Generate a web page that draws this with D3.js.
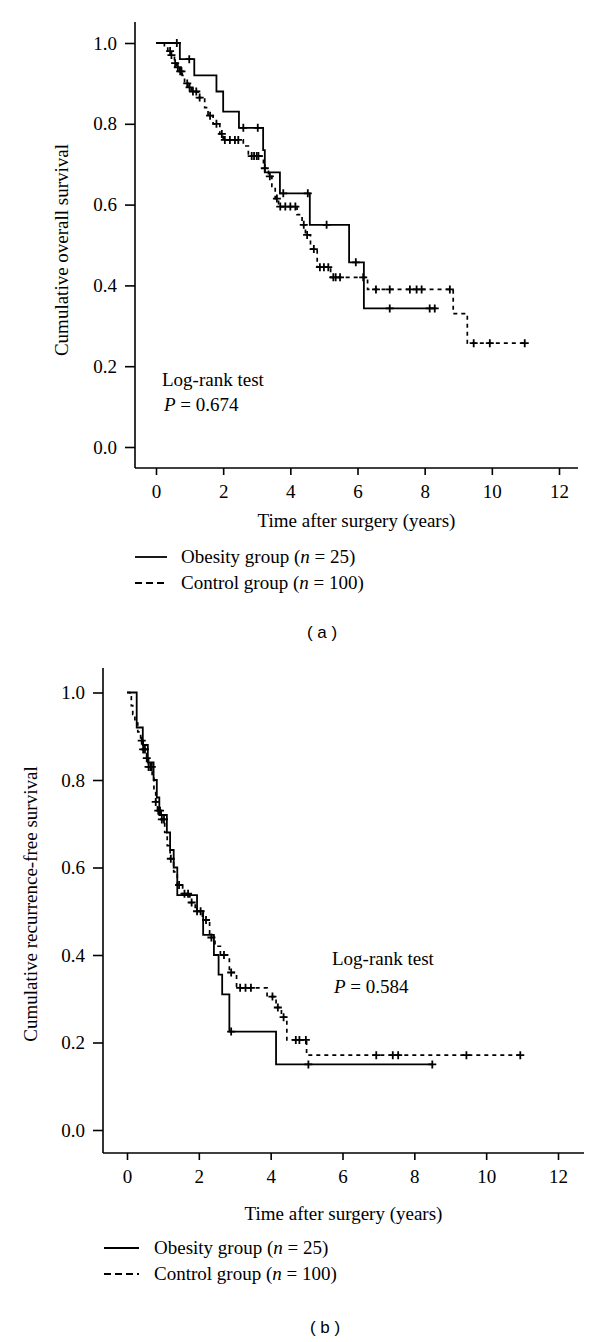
<!DOCTYPE html>
<html><head><meta charset="utf-8">
<script src="https://cdn.jsdelivr.net/npm/d3@7"></script>
<style>
html,body{margin:0;padding:0;background:#fff;}
svg{display:block;}
text{font-family:"Liberation Serif","Times New Roman",serif;fill:#000;}
</style></head>
<body>
<script>
// ---------- data ----------
const xTicks = [0, 2, 4, 6, 8, 10, 12];
const yTicks = [0.0, 0.2, 0.4, 0.6, 0.8, 1.0];

// Panel (a): overall survival
const aObesityT = [0, 0.71, 1.14, 1.8, 2.0, 2.47, 3.19, 3.24, 3.69, 4.58, 5.75, 6.19, 8.35];
const aObesityS = [1.0, 0.96, 0.92, 0.88, 0.83, 0.79, 0.735, 0.68, 0.628, 0.55, 0.457, 0.343, 0.343];
const aObesityCensor = [0.62, 0.99, 2.6, 3.03, 3.79, 4.52, 5.08, 5.95, 6.96, 8.15, 8.3];

const aControlT = [0, 0.25, 0.35, 0.45, 0.55, 0.62, 0.70, 0.78, 0.85, 0.95, 1.05, 1.25, 1.45, 1.55, 1.7, 1.9, 2.0, 2.6, 2.75, 3.2, 3.35, 3.45, 3.55, 3.65, 4.2, 4.35, 4.45, 4.6, 4.8, 5.2, 6.3, 8.85, 9.27, 10.98];
const aControlS = [1.0, 0.99, 0.98, 0.97, 0.95, 0.94, 0.93, 0.92, 0.90, 0.89, 0.88, 0.865, 0.84, 0.82, 0.80, 0.775, 0.76, 0.745, 0.72, 0.69, 0.67, 0.645, 0.615, 0.595, 0.575, 0.55, 0.525, 0.49, 0.445, 0.42, 0.39, 0.33, 0.257, 0.257];
const aControlCensor = [0.42, 0.46, 0.57, 0.65, 0.72, 0.76, 0.93, 1.0, 1.1, 1.2, 1.3, 1.61, 1.8, 1.96, 2.05, 2.2, 2.35, 2.45, 2.85, 2.92, 3.0, 3.05, 3.24, 3.39, 3.6, 3.7, 3.85, 4.0, 4.15, 4.4, 4.5, 4.7, 4.88, 5.0, 5.13, 5.28, 5.35, 5.48, 6.17, 6.55, 6.96, 7.56, 7.76, 7.91, 8.75, 9.46, 9.94, 10.98];

// Panel (b): recurrence-free survival
const bObesityT = [0, 0.27, 0.44, 0.58, 0.74, 0.83, 0.9, 1.11, 1.2, 1.3, 1.4, 1.95, 2.12, 2.42, 2.55, 2.65, 2.85, 4.15, 8.5];
const bObesityS = [1.0, 0.92, 0.88, 0.84, 0.80, 0.76, 0.72, 0.68, 0.64, 0.60, 0.537, 0.50, 0.446, 0.40, 0.355, 0.31, 0.225, 0.15, 0.15];
const bObesityCensor = [2.9, 5.05, 8.5];

const bControlT = [0, 0.08, 0.12, 0.16, 0.22, 0.3, 0.38, 0.45, 0.55, 0.6, 0.7, 0.75, 0.8, 0.85, 0.95, 1.05, 1.12, 1.2, 1.3, 1.4, 1.55, 1.75, 1.9, 2.1, 2.3, 2.45, 2.6, 2.85, 3.05, 3.9, 4.15, 4.3, 4.45, 5.0, 10.95];
const bControlS = [1.0, 0.99, 0.97, 0.95, 0.93, 0.91, 0.89, 0.87, 0.85, 0.83, 0.81, 0.78, 0.75, 0.73, 0.71, 0.68, 0.65, 0.62, 0.59, 0.56, 0.54, 0.52, 0.50, 0.48, 0.44, 0.42, 0.40, 0.36, 0.325, 0.305, 0.28, 0.258, 0.206, 0.171, 0.171];
const bControlCensor = [0.41, 0.45, 0.5, 0.55, 0.6, 0.65, 0.69, 0.8, 0.87, 0.92, 0.97, 1.03, 1.22, 1.45, 1.6, 1.7, 1.8, 1.95, 2.05, 2.2, 2.35, 2.7, 2.9, 3.15, 3.3, 3.45, 4.05, 4.2, 4.36, 4.7, 4.8, 4.98, 6.94, 7.4, 7.55, 9.45, 10.95];

const legendLabels = ["Obesity group", "Control group"];
const legendN = ["25", "100"];
const pValues = ["0.674", "0.584"];

// ---------- drawing ----------
const W = 600, H = 1342;
const svg = d3.select("body").append("svg").attr("width", W).attr("height", H);

const panels = [
  { xr: [156, 559], yr: [447, 43], axX: 135, axTop: 22, axY: 468, axRight: 578,
    yTitle: "Cumulative overall survival", yTitleX: 68, yTitleY: 250,
    series: [[aObesityT, aObesityS, aObesityCensor, false], [aControlT, aControlS, aControlCensor, true]],
    lr: { x: 162, y: 386, dy: 25 },
    xTitleY: 527, legY: 557, legX0: 135, legX1: 167, legTX: 181,
    label: "( a )", labelX: 322, labelY: 638 },
  { xr: [127, 558], yr: [1130, 692.5], axX: 103, axTop: 668, axY: 1153, axRight: 584,
    yTitle: "Cumulative recurrence-free survival", yTitleX: 37, yTitleY: 904,
    series: [[bObesityT, bObesityS, bObesityCensor, false], [bControlT, bControlS, bControlCensor, true]],
    lr: { x: 332, y: 965, dy: 28 },
    xTitleY: 1220, legY: 1248, legX0: 104, legX1: 139, legTX: 154,
    label: "( b )", labelX: 325, labelY: 1333 }
];

panels.forEach((p, pi) => {
  const x = d3.scaleLinear().domain([0, 12]).range(p.xr);
  const y = d3.scaleLinear().domain([0, 1]).range(p.yr);
  const g = svg.append("g");

  // axis lines
  g.append("line").attr("x1", p.axX).attr("x2", p.axX).attr("y1", p.axTop).attr("y2", p.axY)
    .attr("stroke", "#000").attr("stroke-width", 1.6);
  g.append("line").attr("x1", p.axX).attr("x2", p.axRight).attr("y1", p.axY).attr("y2", p.axY)
    .attr("stroke", "#000").attr("stroke-width", 1.6);

  // y axis
  const ya = g.append("g").attr("transform", `translate(${p.axX},0)`)
    .call(d3.axisLeft(y).tickValues(yTicks).tickFormat(d3.format(".1f")).tickSize(10).tickPadding(8));
  ya.select(".domain").remove();
  ya.selectAll(".tick line").attr("stroke", "#000").attr("stroke-width", 1.6);
  ya.selectAll(".tick text").style("font-family", "Liberation Serif").style("font-size", "19px").attr("fill", "#000");

  // x axis
  const xa = g.append("g").attr("transform", `translate(0,${p.axY})`)
    .call(d3.axisBottom(x).tickValues(xTicks).tickFormat(d3.format("d")).tickSize(7).tickPadding(10));
  xa.select(".domain").remove();
  xa.selectAll(".tick line").attr("stroke", "#000").attr("stroke-width", 1.6);
  xa.selectAll(".tick text").style("font-family", "Liberation Serif").style("font-size", "19px").attr("fill", "#000");

  // titles
  g.append("text").attr("transform", `translate(${p.yTitleX},${p.yTitleY}) rotate(-90)`)
    .attr("text-anchor", "middle").style("font-size", "19px").text(p.yTitle);
  g.append("text").attr("x", (p.axX + p.axRight) / 2).attr("y", p.xTitleY)
    .attr("text-anchor", "middle").style("font-size", "19px").text("Time after surgery (years)");

  // curves
  p.series.forEach(([T, S, C, dashed]) => {
    const pts = T.map((t, i) => [t, S[i]]);
    const line = d3.line().x(d => x(d[0])).y(d => y(d[1])).curve(d3.curveStepAfter);
    g.append("path").attr("d", line(pts)).attr("fill", "none").attr("stroke", "#000")
      .attr("stroke-width", dashed ? 1.7 : 1.8)
      .attr("stroke-dasharray", dashed ? "4,4" : null);
    const sAt = t => { let v = S[0]; for (let i = 0; i < T.length; i++) { if (T[i] <= t) v = S[i]; } return v; };
    g.selectAll(null).data(C).enter().append("path")
      .attr("d", c => { const cx = x(c), cy = y(sAt(c)); return `M${cx - 4},${cy}H${cx + 4}M${cx},${cy - 4}V${cy + 4}`; })
      .attr("stroke", "#000").attr("stroke-width", 1.8).attr("fill", "none");
  });

  // log-rank annotation
  g.append("text").attr("x", p.lr.x).attr("y", p.lr.y).style("font-size", "19px").text("Log-rank test");
  const pt = g.append("text").attr("x", p.lr.x + 2).attr("y", p.lr.y + p.lr.dy).style("font-size", "19px");
  pt.append("tspan").style("font-style", "italic").text("P");
  pt.append("tspan").text(" = " + pValues[pi]);

  // legend
  legendLabels.forEach((lab, i) => {
    const ly = p.legY + i * 26;
    g.append("line").attr("x1", p.legX0).attr("x2", p.legX1).attr("y1", ly).attr("y2", ly)
      .attr("stroke", "#000").attr("stroke-width", 1.8)
      .attr("stroke-dasharray", i === 1 ? "7,4" : null);
    const t = g.append("text").attr("x", p.legTX).attr("y", ly + 6).style("font-size", "19px");
    t.append("tspan").text(lab + " (");
    t.append("tspan").style("font-style", "italic").text("n");
    t.append("tspan").text(" = " + legendN[i] + ")");
  });

  // panel label
  g.append("text").attr("x", p.labelX).attr("y", p.labelY).attr("text-anchor", "middle")
    .style("font-family", "Liberation Sans, Arial, sans-serif").style("font-size", "17px").text(p.label);
});
</script>
</body></html>
